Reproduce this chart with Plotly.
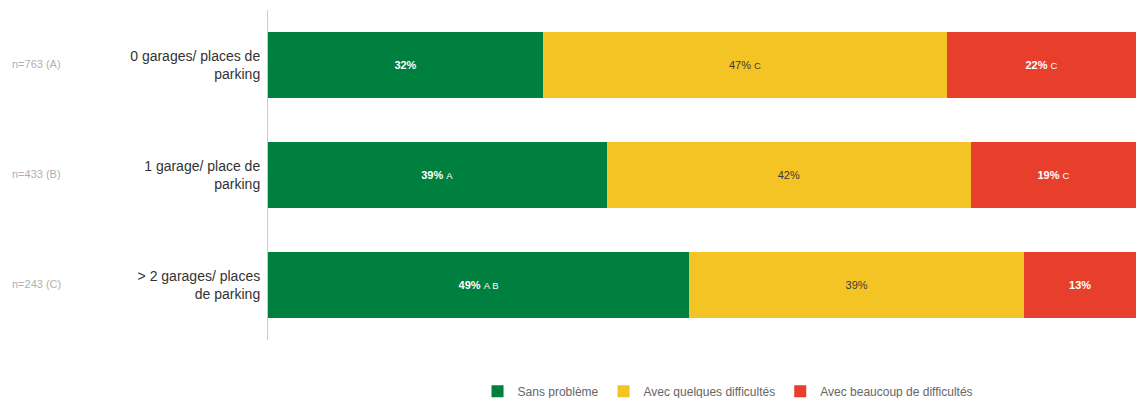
import plotly.graph_objects as go

# Parking availability groups (top to bottom)
categories = [
    "0 garages/ places de<br>parking",
    "1 garage/ place de<br>parking",
    "> 2 garages/ places<br>de parking",
]
sample_sizes = ["n=763 (A)", "n=433 (B)", "n=243 (C)"]

series_names = ["Sans problème", "Avec quelques difficultés", "Avec beaucoup de difficultés"]
sans_probleme = [32, 39, 49]
quelques_difficultes = [47, 42, 39]
beaucoup_difficultes = [22, 19, 13]

# Significance letters shown next to each value
sig_sans = ["", "A", "A B"]
sig_quelques = ["C", "", ""]
sig_beaucoup = ["C", "C", ""]

colors = ["#00803f", "#f4c425", "#e83f2d"]
text_colors = ["#ffffff", "#3a3a3a", "#ffffff"]
bold_text = [True, False, True]

series_values = [sans_probleme, quelques_difficultes, beaucoup_difficultes]
series_sig = [sig_sans, sig_quelques, sig_beaucoup]


def label(v, s, bold):
    main = f"<b>{v}%</b>" if bold else f"{v}%"
    if s:
        return f"{main} <span style='font-size:9.5px'>{s}</span>"
    return main


fig = go.Figure()
for name, vals, sigs, col, tcol, bold in zip(series_names, series_values, series_sig,
                                              colors, text_colors, bold_text):
    fig.add_trace(go.Bar(
        name=name,
        y=categories,
        x=vals,
        orientation="h",
        marker=dict(color=col, line=dict(width=0)),
        text=[label(v, s, bold) for v, s in zip(vals, sigs)],
        textposition="inside",
        insidetextanchor="middle",
        textangle=0,
        textfont=dict(color=tcol, size=11, family="Liberation Sans, Arial, sans-serif"),
        hoverinfo="skip",
    ))

for cat, n in zip(categories, sample_sizes):
    fig.add_annotation(
        x=0.0, xref="paper", xanchor="left",
        y=cat, yref="y",
        text=n, showarrow=False,
        font=dict(size=11, color="#b0b0b0"),
        xshift=-258,
        yshift=1,
    )

fig.update_layout(
    width=1136,
    height=398,
    barmode="stack",
    barnorm="percent",
    bargap=0.4,
    paper_bgcolor="white",
    plot_bgcolor="white",
    margin=dict(l=268, r=0, t=10, b=58, autoexpand=False),
    font=dict(family="Liberation Sans, Arial, sans-serif", color="#333333"),
    xaxis=dict(visible=False, range=[0, 100], fixedrange=True),
    yaxis=dict(
        autorange="reversed",
        showline=True,
        linecolor="#cccccc",
        linewidth=1,
        showgrid=False,
        zeroline=False,
        ticks="",
        tickfont=dict(size=14, color="#333333"),
        ticklabelstandoff=4,
    ),
    legend=dict(
        orientation="h",
        traceorder="normal",
        x=0.53,
        xanchor="center",
        y=-0.155,
        yanchor="middle",
        font=dict(size=12, color="#666666"),
        itemwidth=30,
    ),
    showlegend=True,
)

fig.write_html("out.html")
